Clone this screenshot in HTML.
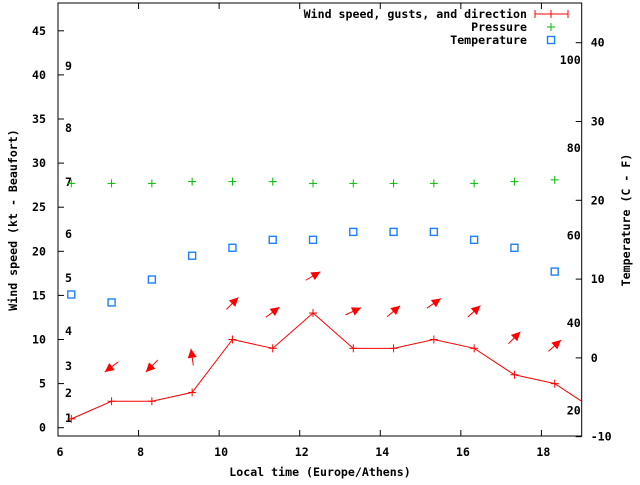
<!DOCTYPE html>
<html><head><meta charset="utf-8"><style>
html,body{margin:0;padding:0;background:#fff;}
svg text{font-family:"DejaVu Sans Mono","Liberation Mono",monospace;font-size:11.6px;font-weight:bold;fill:#000;}
</style></head><body>
<svg id="chart" width="640" height="480" viewBox="0 0 640 480" xmlns="http://www.w3.org/2000/svg">
<g id="axes"></g><g id="marks"></g><g id="legend"></g>
</svg>
<script>
const hours=[6.33,7.33,8.33,9.33,10.33,11.33,12.33,13.33,14.33,15.33,16.33,17.33,18.33,19.33];
const windSpeed=[1,3,3,4,10,9,13,9,9,10,9,6,5,2];
const gustHours=[7.33,8.33,9.33,10.33,11.33,12.33,13.33,14.33,15.33,16.33,17.33,18.33];
const gusts=[6.9,7,8,14.1,13.1,17.2,13.2,13.2,14.1,13.2,10.2,9.3];
const windDirAngle=[217,225,98,45,37,30,25,40,35,42,45,42];
const pointHours=[6.33,7.33,8.33,9.33,10.33,11.33,12.33,13.33,14.33,15.33,16.33,17.33,18.33];
const pressure=[27.7,27.7,27.7,27.9,27.9,27.9,27.7,27.7,27.7,27.7,27.7,27.9,28.1];
const temperature=[15.1,14.2,16.8,19.5,20.4,21.3,21.3,22.2,22.2,22.2,21.3,20.4,17.7];
const xTicks=[6,8,10,12,14,16,18];
const yTicks=[0,5,10,15,20,25,30,35,40,45];
const cTicks=[-10,0,10,20,30,40];
const fTicks=[20,40,60,80,100];
const beaufort=[[1,418],[2,393],[3,366],[4,331],[5,278],[6,234],[7,182],[8,128],[9,66]];

const L=58,R=581.7,T=3,B=436;
const X=h=>L+(h-6)*(R-L)/13;
const Y=v=>427.7-v*8.82;
const YC=c=>436.7-(c+10)*7.88;
const YF=f=>YC((f-32)*5/9);
const NS="http://www.w3.org/2000/svg";
function mk(tag,attrs,parent,txt){const e=document.createElementNS(NS,tag);for(const k in attrs)e.setAttribute(k,attrs[k]);if(txt!==undefined)e.textContent=txt;parent.appendChild(e);return e;}
const ax=document.getElementById('axes'),mg=document.getElementById('marks'),lg=document.getElementById('legend');

let e=mk('rect',{x:L,y:T,width:R-L,height:B-T,fill:'none',stroke:'#000','stroke-width':1},ax);


xTicks.forEach(t=>{
 const x=X(t);
 mk('line',{x1:x,y1:B,x2:x,y2:B-6,stroke:'#000'},ax);
 mk('line',{x1:x,y1:T,x2:x,y2:T+6,stroke:'#000'},ax);
 e=mk('text',{x:x+2,y:B+20,'text-anchor':'middle'},ax,String(t));
 
 
});
yTicks.forEach(t=>{
 const y=Y(t);
 mk('line',{x1:L,y1:y,x2:L+6,y2:y,stroke:'#000'},ax);
 e=mk('text',{x:L-12,y:y+4,'text-anchor':'end'},ax,String(t));
 
 
});
cTicks.forEach(t=>{
 const y=YC(t);
 mk('line',{x1:R,y1:y,x2:R-6,y2:y,stroke:'#000'},ax);
 e=mk('text',{x:R+9,y:y+4,'text-anchor':'start'},ax,String(t));
 
 
});
fTicks.forEach(t=>{
 e=mk('text',{x:R-1,y:YF(t)+4,'text-anchor':'end'},ax,String(t));
 
 
});
beaufort.forEach(b=>{
 e=mk('text',{x:65,y:b[1]+4},ax,String(b[0]));
 
 
});
e=mk('text',{x:320,y:476,'text-anchor':'middle'},ax,'Local time (Europe/Athens)');


e=mk('text',{x:0,y:0,'text-anchor':'middle',transform:'translate(17,220) rotate(-90)'},ax,'Wind speed (kt - Beaufort)');


e=mk('text',{x:0,y:0,'text-anchor':'middle',transform:'translate(630,220) rotate(-90)'},ax,'Temperature (C - F)');



mk('clipPath',{id:'clip'},mg);
mk('rect',{x:L,y:T,width:R-L,height:B-T},document.getElementById('clip'));
const cg=mk('g',{'clip-path':'url(#clip)'},mg);
e=mk('polyline',{points:hours.map((h,i)=>X(h)+','+Y(windSpeed[i])).join(' '),fill:'none',stroke:'#f00','stroke-width':1},cg);


function plus(x,y,c,p,name){const g=mk('g',{},p);mk('line',{x1:x-4,y1:y,x2:x+4,y2:y,stroke:c},g);mk('line',{x1:x,y1:y-4,x2:x,y2:y+4,stroke:c},g);
 
 }
hours.forEach((h,i)=>plus(X(h),Y(windSpeed[i]),'#f00',cg,'wind-point'));
pointHours.forEach((h,i)=>plus(X(h),Y(pressure[i]),'#0b0',mg,'pressure-point'));
pointHours.forEach((h,i)=>{
 e=mk('rect',{x:X(h)-3.5,y:Y(temperature[i])-3.5,width:7,height:7,fill:'none',stroke:'#1e7fff','stroke-width':1.4},mg);
 
 
});
gustHours.forEach((h,i)=>{
 const cx=X(h),cy=Y(gusts[i]),a=windDirAngle[i]*Math.PI/180,dx=Math.cos(a),dy=-Math.sin(a),len=17;
 const tx=cx-dx*len/2,ty=cy-dy*len/2,hx=cx+dx*len/2,hy=cy+dy*len/2;
 const g=mk('g',{},mg);
 
 
 mk('line',{x1:tx,y1:ty,x2:hx,y2:hy,stroke:'#f00','stroke-width':1},g);
 const bx=hx-dx*9,by=hy-dy*9,px=-dy*4.5,py=dx*4.5;
 mk('polygon',{points:`${hx},${hy} ${bx+px},${by+py} ${bx-px},${by-py}`,fill:'#f00'},g);
});

const leg=[['Wind speed, gusts, and direction',14],['Pressure',27],['Temperature',40]];
leg.forEach((l,i)=>{
 e=mk('text',{x:527,y:l[1]+4,'text-anchor':'end'},lg,l[0]);
 
 
});
mk('line',{x1:535,y1:14,x2:568,y2:14,stroke:'#f00'},lg);
mk('line',{x1:535,y1:10,x2:535,y2:18,stroke:'#f00'},lg);
mk('line',{x1:568,y1:10,x2:568,y2:18,stroke:'#f00'},lg);
plus(551,14,'#f00',lg,'legend-wind-symbol');
plus(551,27,'#0b0',lg,'legend-pressure-symbol');
e=mk('rect',{x:547.5,y:36.5,width:7,height:7,fill:'none',stroke:'#1e7fff','stroke-width':1.4},lg);


</script>
</body></html>
